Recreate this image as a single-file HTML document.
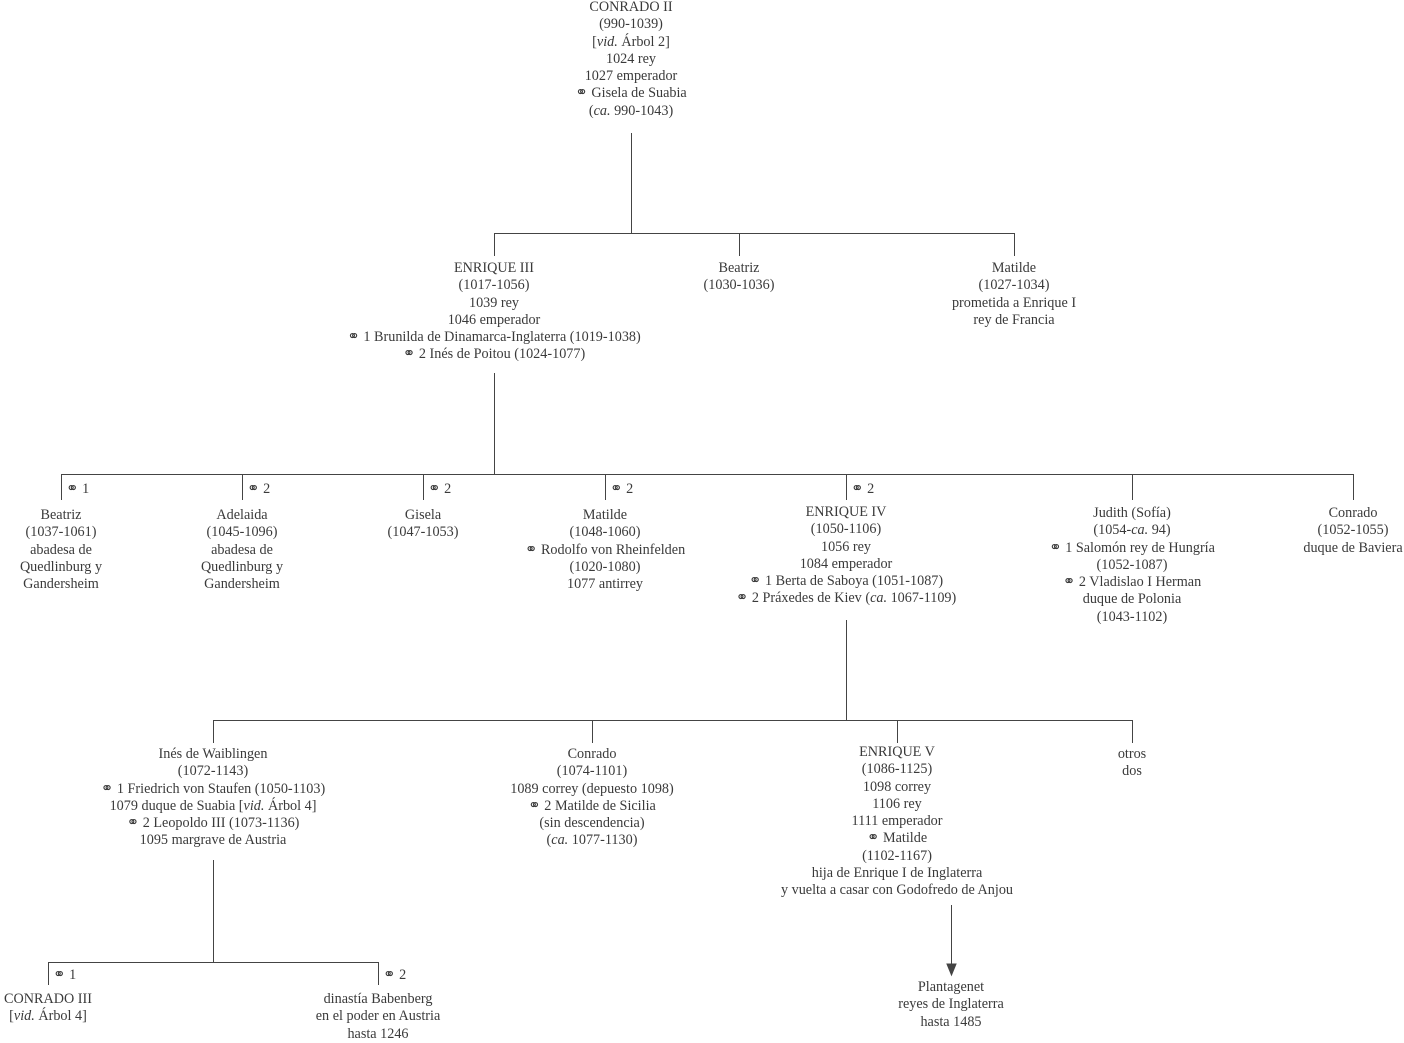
<!DOCTYPE html>
<html><head><meta charset="utf-8"><style>
body{margin:0;width:1404px;height:1038px;background:#fff;position:relative;overflow:hidden;font-family:"Liberation Serif",serif;color:#3a3a3a}
.b{position:absolute;width:600px;text-align:center;font-size:14.2px;line-height:17.3px;white-space:nowrap}
.m{font-family:"DejaVu Sans",sans-serif;font-size:15px;line-height:10px}
.l{position:absolute;font-size:14.2px;line-height:17px;white-space:nowrap}
svg{position:absolute;left:0;top:0}
</style></head><body>
<svg width="1404" height="1038" stroke="#444" stroke-width="1" fill="none">
<path d="M631.5 133V233.5M494.5 233.5H1014.5M494.5 233V256M739.5 233V256M1014.5 233V256"/>
<path d="M494.5 373V474.5M61.5 474.5H1353.5M61.5 474V500M242.5 474V500M423.5 474V500M605.5 474V500M846.5 474V500M1132.5 474V500M1353.5 474V500"/>
<path d="M846.5 620V720.5M213.5 720.5H1132.5M213.5 720V743M592.5 720V743M897.5 720V743M1132.5 720V743"/>
<path d="M213.5 860V962.5M48.5 962.5H378.5M48.5 962V985M378.5 962V985"/>
<path d="M951.5 905V968"/>
<path d="M947 964L951.5 975L956 964Z" fill="#444"/>
</svg>
<div class="b" style="left:331px;top:-1px">CONRADO II<br>(990-1039)<br>[<i>vid.</i> Árbol 2]<br>1024 rey<br>1027 emperador<br><span class="m">⚭</span> Gisela de Suabia<br>(<i>ca.</i> 990-1043)</div>
<div class="b" style="left:194px;top:260px">ENRIQUE III<br>(1017-1056)<br>1039 rey<br>1046 emperador<br><span class="m">⚭</span> 1 Brunilda de Dinamarca-Inglaterra (1019-1038)<br><span class="m">⚭</span> 2 Inés de Poitou (1024-1077)</div>
<div class="b" style="left:439px;top:260px">Beatriz<br>(1030-1036)</div>
<div class="b" style="left:714px;top:260px">Matilde<br>(1027-1034)<br>prometida a Enrique I<br>rey de Francia</div>
<div class="l" style="left:66px;top:481px"><span class="m">⚭</span> 1</div>
<div class="l" style="left:247px;top:481px"><span class="m">⚭</span> 2</div>
<div class="l" style="left:428px;top:481px"><span class="m">⚭</span> 2</div>
<div class="l" style="left:610px;top:481px"><span class="m">⚭</span> 2</div>
<div class="l" style="left:851px;top:481px"><span class="m">⚭</span> 2</div>
<div class="b" style="left:-239px;top:507px">Beatriz<br>(1037-1061)<br>abadesa de<br>Quedlinburg y<br>Gandersheim</div>
<div class="b" style="left:-58px;top:507px">Adelaida<br>(1045-1096)<br>abadesa de<br>Quedlinburg y<br>Gandersheim</div>
<div class="b" style="left:123px;top:507px">Gisela<br>(1047-1053)</div>
<div class="b" style="left:305px;top:507px">Matilde<br>(1048-1060)<br><span class="m">⚭</span> Rodolfo von Rheinfelden<br>(1020-1080)<br>1077 antirrey</div>
<div class="b" style="left:546px;top:504px">ENRIQUE IV<br>(1050-1106)<br>1056 rey<br>1084 emperador<br><span class="m">⚭</span> 1 Berta de Saboya (1051-1087)<br><span class="m">⚭</span> 2 Práxedes de Kiev (<i>ca.</i> 1067-1109)</div>
<div class="b" style="left:832px;top:505px">Judith (Sofía)<br>(1054-<i>ca.</i> 94)<br><span class="m">⚭</span> 1 Salomón rey de Hungría<br>(1052-1087)<br><span class="m">⚭</span> 2 Vladislao I Herman<br>duque de Polonia<br>(1043-1102)</div>
<div class="b" style="left:1053px;top:505px">Conrado<br>(1052-1055)<br>duque de Baviera</div>
<div class="b" style="left:-87px;top:746px">Inés de Waiblingen<br>(1072-1143)<br><span class="m">⚭</span> 1 Friedrich von Staufen (1050-1103)<br>1079 duque de Suabia [<i>vid.</i> Árbol 4]<br><span class="m">⚭</span> 2 Leopoldo III (1073-1136)<br>1095 margrave de Austria</div>
<div class="b" style="left:292px;top:746px">Conrado<br>(1074-1101)<br>1089 correy (depuesto 1098)<br><span class="m">⚭</span> 2 Matilde de Sicilia<br>(sin descendencia)<br>(<i>ca.</i> 1077-1130)</div>
<div class="b" style="left:597px;top:744px">ENRIQUE V<br>(1086-1125)<br>1098 correy<br>1106 rey<br>1111 emperador<br><span class="m">⚭</span> Matilde<br>(1102-1167)<br>hija de Enrique I de Inglaterra<br>y vuelta a casar con Godofredo de Anjou</div>
<div class="b" style="left:832px;top:746px">otros<br>dos</div>
<div class="l" style="left:53px;top:967px"><span class="m">⚭</span> 1</div>
<div class="l" style="left:383px;top:967px"><span class="m">⚭</span> 2</div>
<div class="b" style="left:-252px;top:991px">CONRADO III<br>[<i>vid.</i> Árbol 4]</div>
<div class="b" style="left:78px;top:991px">dinastía Babenberg<br>en el poder en Austria<br>hasta 1246</div>
<div class="b" style="left:651px;top:979px">Plantagenet<br>reyes de Inglaterra<br>hasta 1485</div>
</body></html>
